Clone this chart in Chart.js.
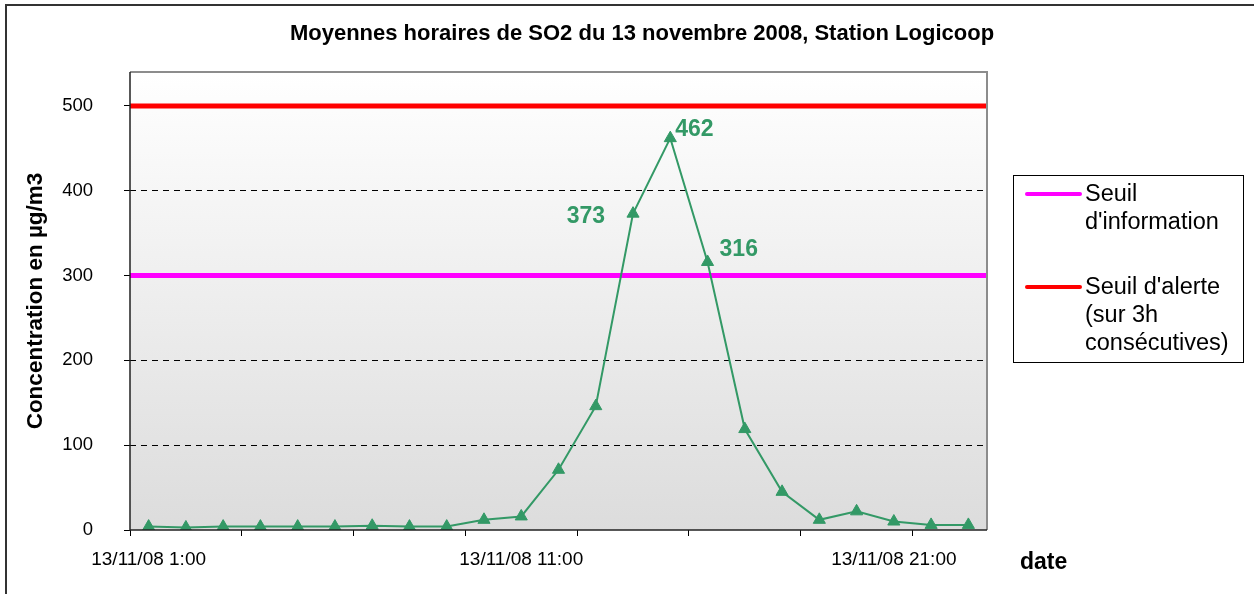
<!DOCTYPE html>
<html>
<head>
<meta charset="utf-8">
<script src="https://cdn.jsdelivr.net/npm/chart.js@4.4.1/dist/chart.umd.min.js"></script>
<style>
  html, body { margin: 0; padding: 0; background: #fff; }
  #wrap { width: 1254px; height: 594px; position: relative; }
</style>
</head>
<body>
<div id="wrap"><canvas id="so2"></canvas></div>
<script>
const hours = ['1:00', '2:00', '3:00', '4:00', '5:00', '6:00', '7:00', '8:00', '9:00', '10:00', '11:00', '12:00',
  '13:00', '14:00', '15:00', '16:00', '17:00', '18:00', '19:00', '20:00', '21:00', '22:00', '23:00'];
const labels = hours.map(h => '13/11/08 ' + h);
const so2 = [4, 3, 4, 4, 4, 4, 5, 4, 4, 12, 16, 71, 146, 373, 462, 316, 119, 45, 12, 22, 10, 6, 6];
const shownValues = [13, 14, 15];   // indices that carry a value label
const seuilInfo = 300;
const seuilAlerte = 500;
const legendInfo = ['Seuil', "d'information"];
const legendAlerte = ["Seuil d'alerte", '(sur 3h', 'consécutives)'];

const FONT = 'Arial, "Liberation Sans", sans-serif';
const green = '#339966';

// background gradient in the plot area + outer frame
const backdrop = {
  id: 'backdrop',
  beforeDraw(chart) {
    const { ctx, chartArea: a } = chart;
    ctx.save();
    const g = ctx.createLinearGradient(0, a.top, 0, a.bottom);
    g.addColorStop(0, '#ffffff');
    g.addColorStop(1, '#dcdcdc');
    ctx.fillStyle = g;
    ctx.fillRect(a.left, a.top, a.right - a.left, a.bottom - a.top);
    // outer frame (only top and left visible)
    ctx.strokeStyle = '#333';
    ctx.lineWidth = 2;
    ctx.beginPath();
    ctx.moveTo(6, chart.height);
    ctx.lineTo(6, 5);
    ctx.lineTo(chart.width, 5);
    ctx.stroke();
    ctx.restore();
  },
  afterDatasetsDraw(chart) {
    const { ctx, chartArea: a } = chart;
    ctx.save();
    // plot border
    ctx.strokeStyle = '#8c8c8c';
    ctx.lineWidth = 2;
    ctx.beginPath();
    ctx.moveTo(a.left, a.top);
    ctx.lineTo(a.right, a.top);
    ctx.lineTo(a.right, a.bottom);
    ctx.stroke();
    ctx.strokeStyle = '#222';
    ctx.lineWidth = 1.5;
    ctx.beginPath();
    ctx.moveTo(a.left, a.top);
    ctx.lineTo(a.left, a.bottom);
    ctx.lineTo(a.right, a.bottom);
    ctx.stroke();
    ctx.restore();
  }
};

// title, value labels, "date", legend
const extras = {
  id: 'extras',
  afterDraw(chart) {
    const { ctx, chartArea: a } = chart;
    ctx.save();
    ctx.fillStyle = '#000';
    ctx.font = 'bold 22px ' + FONT;
    ctx.textAlign = 'center';
    ctx.textBaseline = 'middle';
    ctx.fillText('Moyennes horaires de SO2 du 13 novembre 2008, Station Logicoop', 642, 34);

    ctx.font = 'bold 23px ' + FONT;
    ctx.textAlign = 'left';
    ctx.fillText('date', a.right + 33, 563);

    // value labels
    const meta = chart.getDatasetMeta(0);
    ctx.fillStyle = green;
    shownValues.forEach(i => {
      const p = meta.data[i];
      const txt = String(so2[i]);
      if (i === 13) {
        ctx.textAlign = 'right';
        ctx.fillText(txt, p.x - 28, p.y + 3);
      } else if (i === 14) {
        ctx.textAlign = 'left';
        ctx.fillText(txt, p.x + 5, p.y - 8);
      } else {
        ctx.textAlign = 'left';
        ctx.fillText(txt, p.x + 12, p.y - 12);
      }
    });

    // legend box
    const lx = 1013, ly = 175, lw = 230, lh = 187;
    ctx.fillStyle = '#fff';
    ctx.fillRect(lx, ly, lw, lh);
    ctx.strokeStyle = '#000';
    ctx.lineWidth = 1;
    ctx.strokeRect(lx + 0.5, ly + 0.5, lw, lh);
    const entries = [
      { color: chart.data.datasets[1].borderColor, lines: legendInfo, y: 194 },
      { color: chart.data.datasets[2].borderColor, lines: legendAlerte, y: 287 }
    ];
    ctx.font = '23.5px ' + FONT;
    ctx.textAlign = 'left';
    entries.forEach(e => {
      ctx.strokeStyle = e.color;
      ctx.lineWidth = 4;
      ctx.lineCap = 'round';
      ctx.beginPath();
      ctx.moveTo(1027, e.y);
      ctx.lineTo(1080, e.y);
      ctx.stroke();
      ctx.fillStyle = '#000';
      e.lines.forEach((t, k) => ctx.fillText(t, 1085, e.y + 1 + k * 28));
    });
    ctx.restore();
  }
};

new Chart(document.getElementById('so2'), {
  type: 'line',
  data: {
    labels: labels,
    datasets: [{
      label: 'SO2',
      data: so2,
      borderColor: green,
      backgroundColor: green,
      borderWidth: 2,
      pointStyle: 'triangle',
      pointRadius: 7,
      pointBorderWidth: 1,
      tension: 0,
      order: 0
    }, {
      label: "Seuil d'information",
      data: [{ x: 0, y: seuilInfo }, { x: 1, y: seuilInfo }],
      xAxisID: 'xs',
      borderColor: '#ff00ff',
      borderWidth: 5,
      pointRadius: 0,
      order: 2
    }, {
      label: "Seuil d'alerte (sur 3h consécutives)",
      data: [{ x: 0, y: seuilAlerte }, { x: 1, y: seuilAlerte }],
      xAxisID: 'xs',
      borderColor: '#ff0000',
      borderWidth: 5,
      pointRadius: 0,
      order: 1
    }]
  },
  options: {
    responsive: true,
    maintainAspectRatio: false,
    animation: false,
    layout: { padding: { left: 5, right: 267, top: 72, bottom: 0 } },
    plugins: {
      legend: { display: false },
      title: { display: false },
      tooltip: { enabled: false }
    },
    scales: {
      x: {
        type: 'category',
        offset: true,
        afterFit: s => { s.height = 64; },
        border: { display: false },
        grid: {
          offset: true,
          drawOnChartArea: false,
          tickLength: 6,
          color: c => (c.index % 3 === 0 ? '#000' : 'rgba(0,0,0,0)')
        },
        ticks: {
          autoSkip: false,
          maxRotation: 0,
          padding: 12,
          color: '#000',
          font: { family: FONT, size: 19 },
          callback: function (v, i) { return i % 10 === 0 ? this.getLabelForValue(v) : ''; }
        }
      },
      xs: {
        type: 'linear',
        display: false,
        min: 0,
        max: 1
      },
      y: {
        min: 0,
        max: 540,
        afterFit: s => { s.width = 125; },
        afterBuildTicks: s => { s.ticks = s.ticks.filter(t => t.value % 100 === 0); },
        border: { display: false, dash: [6, 5] },
        grid: {
          color: c => (c.tick && c.tick.value > 0 && c.tick.value < 500 ? '#000' : 'rgba(0,0,0,0)'),
          tickColor: '#000',
          tickBorderDash: [],
          tickLength: 6,
          lineWidth: 1
        },
        ticks: {
          stepSize: 100,
          padding: 31,
          color: '#000',
          font: { family: FONT, size: 18.5 }
        },
        title: {
          display: true,
          text: 'Concentration en µg/m3',
          color: '#000',
          font: { family: FONT, size: 22.5, weight: 'bold' },
          padding: { top: 17, bottom: 0 }
        }
      }
    }
  },
  plugins: [backdrop, extras]
});
</script>
</body>
</html>
